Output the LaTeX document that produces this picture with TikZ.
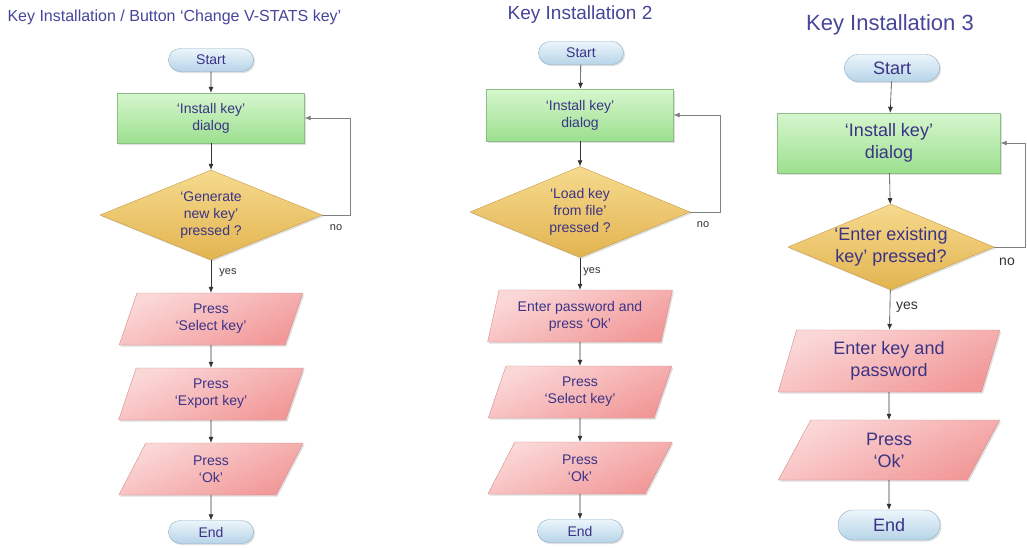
\documentclass[tikz,border=0pt]{standalone}
\usepackage{fontspec}
\setmainfont{Liberation Sans}
\usepackage{tikz}
\usetikzlibrary{shapes.geometric, shapes.misc, arrows.meta, shadows}
\definecolor{titleblue}{RGB}{70, 70, 156}
\definecolor{textblue}{RGB}{59, 51, 134}
\definecolor{pilltop}{RGB}{236, 245, 251}
\definecolor{pillbot}{RGB}{182, 212, 232}
\definecolor{pillline}{RGB}{140, 172, 198}
\definecolor{greentop}{RGB}{214, 246, 206}
\definecolor{greenbot}{RGB}{156, 224, 142}
\definecolor{greenline}{RGB}{140, 190, 134}
\definecolor{goldtop}{RGB}{246, 218, 142}
\definecolor{goldbot}{RGB}{226, 180, 80}
\definecolor{goldline}{RGB}{198, 154, 70}
\definecolor{pinktop}{RGB}{251, 216, 216}
\definecolor{pinkbot}{RGB}{242, 152, 152}
\definecolor{pinkline}{RGB}{214, 138, 138}

\begin{document}
\begin{tikzpicture}[x=1pt, y=-1pt,
  small/.style={font=\fontsize{14}{17}\selectfont},
  big/.style={font=\fontsize{18}{22}\selectfont},
  shade/.style={drop shadow={opacity=0.25, shadow xshift=1.5pt, shadow yshift=-1.5pt}},
  term/.style={rounded rectangle, shade, draw=pillline, top color=pilltop, bottom color=pillbot,
    text=textblue, small, minimum width=85, minimum height=23, inner sep=0pt},
  proc/.style={rectangle, shade, draw=greenline, top color=greentop, bottom color=greenbot,
    text=textblue, small, align=center, minimum width=187, minimum height=50, inner sep=2pt},
  dec/.style={diamond, aspect=2.4, shade, draw=goldline, top color=goldtop, bottom color=goldbot,
    text=textblue, small, align=center, minimum width=222, minimum height=90, inner sep=0pt},
  io/.style={trapezium, trapezium left angle=75, trapezium right angle=105, trapezium stretches=true,
    shade, draw=pinkline, top color=pinktop, bottom color=pinkbot, shading angle=25,
    text=textblue, small, align=center, minimum width=185, minimum height=52, inner sep=2pt},
  ttl/.style={text=titleblue},
  lbl/.style={text=black!80, font=\fontsize{11}{13}\selectfont},
  arr/.style={-{Latex[length=6pt, width=5pt]}, draw=black!80, line width=0.6pt},
  back/.style={arr, draw=black!50}
]
  \fill[white] (0, 0) rectangle (1027, 547);
  \useasboundingbox (0, 0) rectangle (1027, 547);

  % Key Installation / Button
  \node[ttl, anchor=west, font=\fontsize{16}{19}\selectfont] (t1) at (4, 17) {Key Installation / Button `Change V-STATS key'};
  \node[term] (s1) at (211, 60) {Start};
  \node[proc] (g1) at (211, 118) {`Install key'\\dialog};
  \node[dec] (d1) at (211, 215) {`Generate\\new key'\\pressed ?};
  \node[io] (p11) at (211, 319) {Press\\`Select key'};
  \node[io] (p12) at (211, 394) {Press\\`Export key'};
  \node[io] (p13) at (211, 469) {Press\\`Ok'};
  \node[term] (e1) at (211, 532) {End};
  \coordinate (l1) at (350, 215);
  \node[lbl] (y1) at (228, 273) {yes};
  \node[lbl] (n1) at (336, 228) {no};

  \draw[arr] (s1) -- (g1);
  \draw[arr] (g1) -- (d1);
  \draw[arr] (d1) -- (p11);
  \draw[arr] (p11) -- (p12);
  \draw[arr] (p12) -- (p13);
  \draw[arr] (p13) -- (e1);
  \draw[back] (d1.east) -- (l1) |- (g1.east);

  % Key Installation 2
  \node[ttl, font=\fontsize{19}{22}\selectfont] (t2) at (580, 15) {Key Installation 2};
  \node[term] (s2) at (581, 53) {Start};
  \node[proc, minimum height=52] (g2) at (580, 115) {`Install key'\\dialog};
  \node[dec, minimum width=220, minimum height=91] (d2) at (580, 212) {`Load key\\from file'\\pressed ?};
  \node[io] (p21) at (580, 316) {Enter password and\\press `Ok'};
  \node[io] (p22) at (580, 392) {Press\\`Select key'};
  \node[io] (p23) at (580, 468) {Press\\`Ok'};
  \node[term] (e2) at (580, 531) {End};
  \coordinate (l2) at (720, 212);
  \node[lbl] (y2) at (592, 272) {yes};
  \node[lbl] (n2) at (703, 225) {no};

  \draw[arr] (s2) -- (g2);
  \draw[arr] (g2) -- (d2);
  \draw[arr] (d2) -- (p21);
  \draw[arr] (p21) -- (p22);
  \draw[arr] (p22) -- (p23);
  \draw[arr] (p23) -- (e2);
  \draw[back] (d2.east) -- (l2) |- (g2.east);

  % Key Installation 3
  \node[ttl, font=\fontsize{22}{26}\selectfont] (t3) at (890, 25) {Key Installation 3};
  \node[term, big, minimum width=95, minimum height=27] (s3) at (892, 68) {Start};
  \node[proc, big, minimum width=223, minimum height=60] (g3) at (889, 143) {`Install key'\\dialog};
  \node[dec, big, minimum width=206, minimum height=85] (d3) at (891, 247) {`Enter existing\\key' pressed?};
  \node[io, big, minimum width=222, minimum height=62] (p31) at (889, 361) {Enter key and\\password};
  \node[io, big, minimum width=222, minimum height=60] (p32) at (889, 450) {Press\\`Ok'};
  \node[term, big, minimum width=102, minimum height=30] (e3) at (889, 525) {End};
  \coordinate (l3) at (1025, 247);
  \node[lbl, font=\fontsize{14}{16}\selectfont] (y3) at (907, 307) {yes};
  \node[lbl, font=\fontsize{14}{16}\selectfont] (n3) at (1007, 262) {no};

  \draw[arr] (s3) -- (g3);
  \draw[arr] (g3) -- (d3);
  \draw[arr] (d3) -- (p31);
  \draw[arr] (p31) -- (p32);
  \draw[arr] (p32) -- (e3);
  \draw[back] (d3.east) -- (l3) |- (g3.east);
\end{tikzpicture}
\end{document}
